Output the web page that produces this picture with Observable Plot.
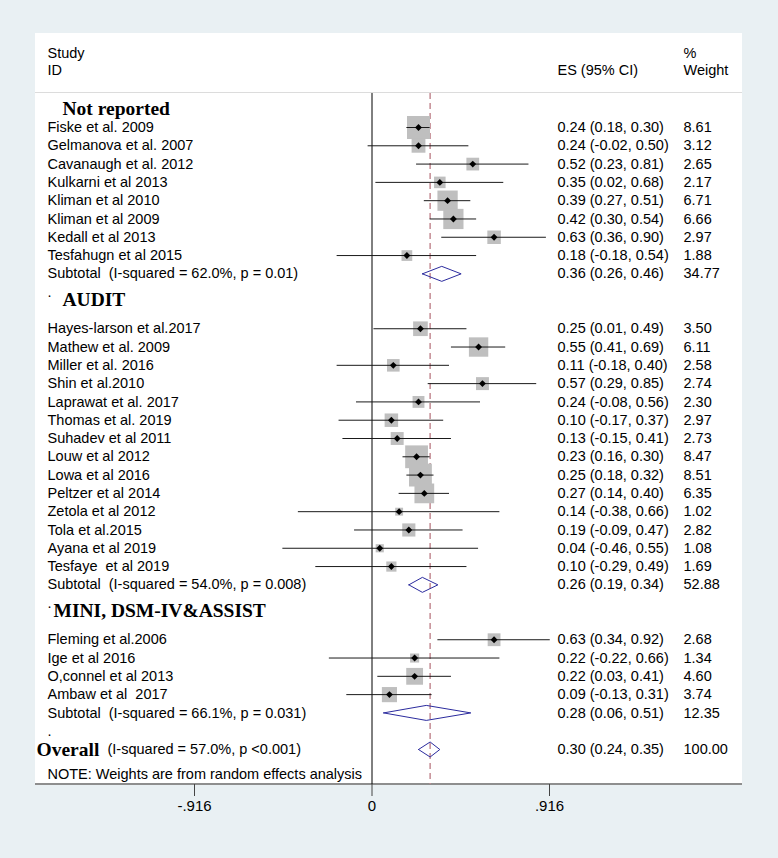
<!DOCTYPE html>
<html><head><meta charset="utf-8">
<script src="https://cdn.jsdelivr.net/npm/d3@7"></script>
<script src="https://cdn.jsdelivr.net/npm/@observablehq/plot@0.6"></script>
<style>
body{margin:0;background:#e9f0f3;}
#page{position:relative;width:778px;height:858px;overflow:hidden;background:#e9f0f3;}
#panel{position:absolute;left:35px;top:33px;width:707px;height:750px;background:#fff;border-bottom:2px solid #8e8e8e;}
#sep{position:absolute;left:35px;top:92px;width:707px;height:1px;background:#dcdcdc;}
#chart{position:absolute;left:0;top:0;}
</style></head>
<body><div id="page"><div id="panel"></div><div id="sep"></div><div id="chart"></div></div>
<script>
const groupNames = ["Not reported", "AUDIT", "MINI, DSM-IV&ASSIST"];
const studyLabels = [
  "Fiske et al. 2009","Gelmanova et al. 2007","Cavanaugh et al. 2012","Kulkarni et al 2013",
  "Kliman et al 2010","Kliman et al 2009","Kedall et al 2013","Tesfahugn et al 2015",
  "Hayes-larson et al.2017","Mathew et al. 2009","Miller et al. 2016","Shin et al.2010",
  "Laprawat et al. 2017","Thomas et al. 2019","Suhadev et al 2011","Louw et al 2012",
  "Lowa et al 2016","Peltzer et al 2014","Zetola et al 2012","Tola et al.2015",
  "Ayana et al 2019","Tesfaye  et al 2019",
  "Fleming et al.2006","Ige et al 2016","O,connel et al 2013","Ambaw et al  2017"
];
const studyGroup = [0,0,0,0,0,0,0,0, 1,1,1,1,1,1,1,1,1,1,1,1,1,1, 2,2,2,2];
const studyES   = [0.24,0.24,0.52,0.35,0.39,0.42,0.63,0.18, 0.25,0.55,0.11,0.57,0.24,0.10,0.13,0.23,0.25,0.27,0.14,0.19,0.04,0.10, 0.63,0.22,0.22,0.09];
const studyLow  = [0.18,-0.02,0.23,0.02,0.27,0.30,0.36,-0.18, 0.01,0.41,-0.18,0.29,-0.08,-0.17,-0.15,0.16,0.18,0.14,-0.38,-0.09,-0.46,-0.29, 0.34,-0.22,0.03,-0.13];
const studyHigh = [0.30,0.50,0.81,0.68,0.51,0.54,0.90,0.54, 0.49,0.69,0.40,0.85,0.56,0.37,0.41,0.30,0.32,0.40,0.66,0.47,0.55,0.49, 0.92,0.66,0.41,0.31];
const studyWeight = [8.61,3.12,2.65,2.17,6.71,6.66,2.97,1.88, 3.50,6.11,2.58,2.74,2.30,2.97,2.73,8.47,8.51,6.35,1.02,2.82,1.08,1.69, 2.68,1.34,4.60,3.74];
const subtotalLabels = [
  "Subtotal  (I-squared = 62.0%, p = 0.01)",
  "Subtotal  (I-squared = 54.0%, p = 0.008)",
  "Subtotal  (I-squared = 66.1%, p = 0.031)"
];
const subtotalES = [0.36,0.26,0.28];
const subtotalLow = [0.26,0.19,0.06];
const subtotalHigh = [0.46,0.34,0.51];
const subtotalWeight = [34.77,52.88,12.35];
const overallLabel = "(I-squared = 57.0%, p <0.001)";
const overallES = 0.30, overallLow = 0.24, overallHigh = 0.35, overallWeight = 100.00;
const noteText = "NOTE: Weights are from random effects analysis";
const xTicks = [-0.916, 0, 0.916];
const xTickLabels = ["-.916", "0", ".916"];

// build rows (one slot per line, as in the Stata layout)
const f2 = v => v.toFixed(2);
const headings = [], studies = [], pooled = [], blanks = [];
let slot = 1;
groupNames.forEach((g, gi) => {
  if (gi > 0) { blanks.push({slot, label: "."}); slot++; }
  headings.push({label: g, slot, gi}); slot++;
  studyLabels.forEach((s, i) => {
    if (studyGroup[i] !== gi) return;
    studies.push({label: s, es: studyES[i], lo: studyLow[i], hi: studyHigh[i], w: studyWeight[i], slot});
    slot++;
  });
  pooled.push({label: subtotalLabels[gi], es: subtotalES[gi], lo: subtotalLow[gi], hi: subtotalHigh[gi], w: subtotalWeight[gi], slot});
  slot++;
});
blanks.push({slot, label: "."}); slot++;
const overall = {label: overallLabel, es: overallES, lo: overallLow, hi: overallHigh, w: overallWeight, slot};
slot++;
const noteRow = {label: noteText, slot};

const labelRows = [...studies, ...pooled, ...blanks];
const valueRows = [...studies, ...pooled, overall];
const h = 0.41;
const diamondPts = [...pooled, overall].flatMap((d, i) => [
  {id: i, x: d.lo, y: d.slot}, {id: i, x: d.es, y: d.slot - h},
  {id: i, x: d.hi, y: d.slot}, {id: i, x: d.es, y: d.slot + h},
  {id: i, x: d.lo, y: d.slot}
]);

const sans = "Liberation Sans, Arial, sans-serif";
const serif = "Liberation Serif, Times New Roman, serif";
const maxW = d3.max(studyWeight);

const chart = Plot.plot({
  width: 778, height: 858,
  marginLeft: 35, marginRight: 36, marginTop: 93, marginBottom: 74,
  style: {fontFamily: sans, fontSize: "14.5px", background: "transparent", color: "#000"},
  x: {domain: [-0.916, 0.916], range: [194, 549], axis: null},
  y: {domain: [2, 36], range: [127, 749], axis: null},
  r: {type: "sqrt", domain: [0, maxW], range: [0, 4.42 * Math.sqrt(maxW)]},
  marks: [
    Plot.ruleX([overall.es], {stroke: "#c48b93", strokeWidth: 1.5, strokeDasharray: "6,4"}),
    Plot.ruleX([0], {stroke: "#000", strokeWidth: 1}),
    Plot.dot(studies, {x: "es", y: "slot", r: "w", symbol: "square", fill: "#bfbfbf", stroke: null}),
    Plot.ruleY(studies, {y: "slot", x1: "lo", x2: "hi", stroke: "#1a1a1a", strokeWidth: 1}),
    Plot.dot(studies, {x: "es", y: "slot", r: 3.1, symbol: "diamond2", fill: "#000", stroke: null}),
    Plot.line(diamondPts, {x: "x", y: "y", z: "id", stroke: "#2b2b9e", strokeWidth: 1, curve: "linear"}),
    Plot.axisX({ticks: xTicks, tickFormat: d => xTickLabels[xTicks.indexOf(d)], tickSize: 12, tickPadding: 4, fontSize: 15, stroke: "#444"}),
    // header
    Plot.text(["Study"], {text: d => d, frameAnchor: "top-left", dx: 12, dy: -40, lineAnchor: "middle", textAnchor: "start"}),
    Plot.text(["ID"], {text: d => d, frameAnchor: "top-left", dx: 12, dy: -23, lineAnchor: "middle", textAnchor: "start"}),
    Plot.text(["ES (95% CI)"], {text: d => d, frameAnchor: "top-right", dx: -185, dy: -23, lineAnchor: "middle", textAnchor: "start"}),
    Plot.text(["%"], {text: d => d, frameAnchor: "top-right", dx: -59, dy: -40, lineAnchor: "middle", textAnchor: "start"}),
    Plot.text(["Weight"], {text: d => d, frameAnchor: "top-right", dx: -59, dy: -23, lineAnchor: "middle", textAnchor: "start"}),
    // row labels
    Plot.text(labelRows, {y: "slot", text: "label", frameAnchor: "left", dx: 12, textAnchor: "start", lineAnchor: "middle"}),
    Plot.text([noteRow], {y: "slot", text: "label", frameAnchor: "left", dx: 12, dy: 7, textAnchor: "start", lineAnchor: "middle"}),
    ...headings.map(hd => Plot.text([hd], {
      y: "slot", text: "label", frameAnchor: "left", dx: hd.gi === 2 ? 18 : 27, dy: hd.gi === 0 ? 0 : -11,
      textAnchor: "start", lineAnchor: "middle", fontFamily: serif, fontWeight: "bold", fontSize: 19.5
    })),
    Plot.text([overall], {y: "slot", text: d => "Overall", frameAnchor: "left", dx: 1, textAnchor: "start", lineAnchor: "middle", fontFamily: serif, fontWeight: "bold", fontSize: 19.5}),
    Plot.text([overall], {y: "slot", text: "label", frameAnchor: "left", dx: 72, textAnchor: "start", lineAnchor: "middle"}),
    // values
    Plot.text(valueRows, {y: "slot", text: d => `${f2(d.es)} (${f2(d.lo)}, ${f2(d.hi)})`, frameAnchor: "right", dx: -185, textAnchor: "start", lineAnchor: "middle"}),
    Plot.text(valueRows, {y: "slot", text: d => f2(d.w), frameAnchor: "right", dx: -59, textAnchor: "start", lineAnchor: "middle"})
  ]
});
document.getElementById("chart").appendChild(chart);
</script>
</body></html>
